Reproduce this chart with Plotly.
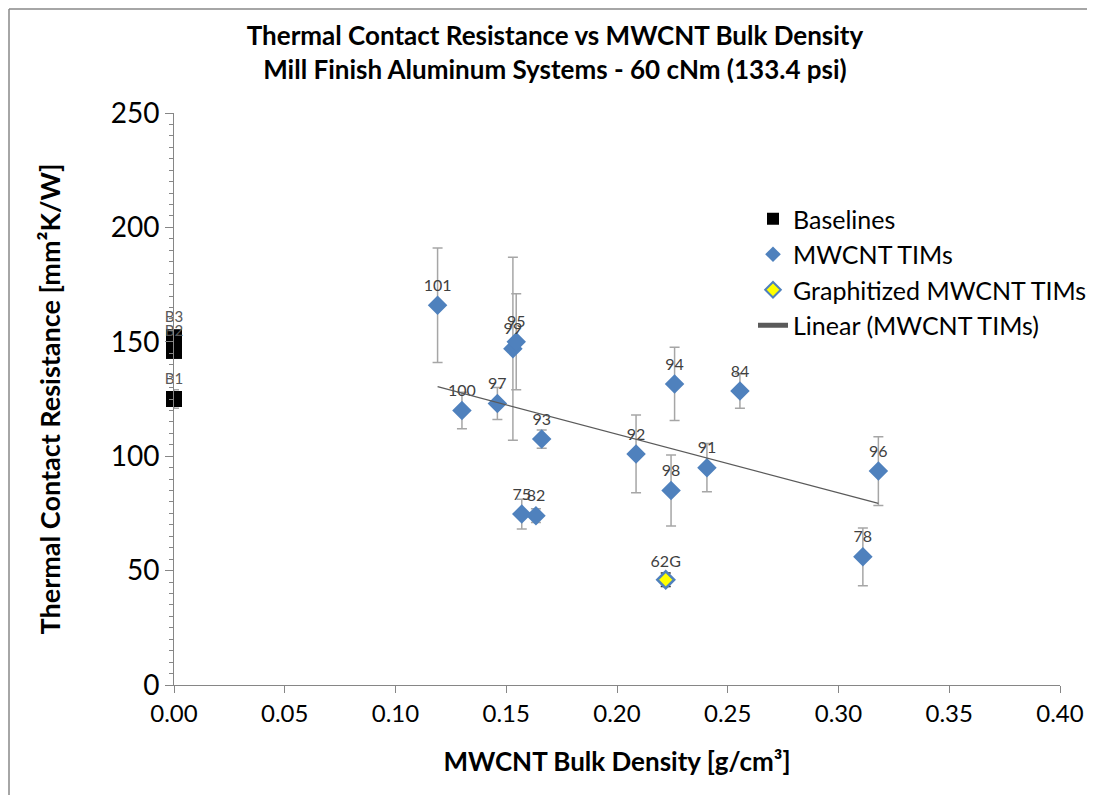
import plotly.graph_objects as go

# ---- data ----
base_x = [0.0, 0.0, 0.0]
base_y = [152, 146, 125]
base_err = [3, 3, 4]
base_lbl = ["B3", "B2", "B1"]

tim_x = [0.119, 0.130, 0.146, 0.153, 0.1545, 0.166, 0.157, 0.1634, 0.2086, 0.2244, 0.2406, 0.226, 0.2555, 0.318, 0.311]
tim_y = [166, 120, 123, 147, 150, 107.5, 74.7, 74, 101, 85, 95, 131.6, 128.5, 93.5, 56]
tim_err = [25, 8, 7, 40, 21, 4, 6.5, 3, 17, 15.5, 10.5, 16, 7.5, 15, 12.6]
tim_lbl = ["101", "100", "97", "99", "95", "93", "75", "82", "92", "98", "91", "94", "84", "96", "78"]

gr_x = [0.222]
gr_y = [46]
gr_err = [3]
gr_lbl = ["62G"]

trend_x = [0.119, 0.318]
trend_y = [130.4, 79.4]

x_ticks = [0, 0.05, 0.10, 0.15, 0.20, 0.25, 0.30, 0.35, 0.40]
y_ticks = [0, 50, 100, 150, 200, 250]

FONT = "Lato"
BLUE = "#4F81BD"
EGRAY = "#A6A6A6"
LBL = "#404040"

OFF = 8  # page offset of the figure
W, H = 1087, 787
L, R, T, B = 166, 35, 105, 110
PW, PH = W - L - R, H - T - B

fig = go.Figure()

fig.add_trace(go.Scatter(
    x=base_x, y=base_y, mode="markers+text", name="Baselines",
    marker=dict(symbol="square", size=16, color="black"),
    error_y=dict(type="data", array=base_err, color=EGRAY, thickness=1.5, width=5),
    text=base_lbl, textposition="top center",
    textfont=dict(family=FONT, size=15, color="#595959"),
    cliponaxis=False,
))

fig.add_trace(go.Scatter(
    x=tim_x, y=tim_y, mode="markers+text", name="MWCNT TIMs",
    marker=dict(symbol="diamond", size=15, color=BLUE),
    error_y=dict(type="data", array=tim_err, color=EGRAY, thickness=1.5, width=5),
    text=tim_lbl, textposition="top center",
    textfont=dict(family=FONT, size=16, color=LBL),
    cliponaxis=False,
))

fig.add_trace(go.Scatter(
    x=gr_x, y=gr_y, mode="markers+text", name="Graphitized MWCNT TIMs",
    marker=dict(symbol="diamond", size=13, color="#FFFF00", line=dict(color=BLUE, width=2.5)),
    error_y=dict(type="data", array=gr_err, color="#303030", thickness=1.5, width=5),
    text=gr_lbl, textposition="top center",
    textfont=dict(family=FONT, size=16, color=LBL),
    cliponaxis=False,
))

fig.add_trace(go.Scatter(
    x=trend_x, y=trend_y, mode="lines", name="Linear (MWCNT TIMs)",
    line=dict(color="#5a5a5a", width=1.2),
))

fig.update_layout(
    width=W, height=H,
    margin=dict(l=L, r=R, t=T, b=B, autoexpand=False),
    paper_bgcolor="white", plot_bgcolor="white",
    font=dict(family=FONT, color="black"),
    title=dict(
        text="<b>Thermal Contact Resistance vs MWCNT Bulk Density<br>Mill Finish Aluminum Systems - 60 cNm (133.4 psi)</b>",
        x=(555 - OFF - L) / PW, xref="paper", xanchor="center",
        y=1 - 37 / H, yanchor="top",
        font=dict(family=FONT, size=26, color="black"),
    ),
    legend=dict(
        x=(753 - OFF - L) / PW, y=(PH + T - (196 - OFF)) / PH, xanchor="left", yanchor="top",
        font=dict(family=FONT, size=25, color="black"),
        bgcolor="rgba(0,0,0,0)", itemsizing="constant",
    ),
    showlegend=True,
    shapes=[
        dict(type="line", xref="paper", yref="paper",
             x0=-(L - 1) / PW, x1=1.2, y0=(PH + T - 1) / PH, y1=(PH + T - 1) / PH,
             line=dict(color="#888888", width=1.5)),
        dict(type="line", xref="paper", yref="paper",
             x0=-(L - 1) / PW, x1=-(L - 1) / PW, y0=(PH + T - 1) / PH, y1=-B / PH,
             line=dict(color="#888888", width=1.5)),
    ],
)

fig.update_xaxes(
    range=[0, 0.40], tickvals=x_ticks, tickformat=".2f",
    showgrid=False, zeroline=False,
    showline=True, linecolor="#868686", linewidth=1,
    ticks="outside", ticklen=7, tickcolor="#868686",
    tickfont=dict(family=FONT, size=24, color="black"),
    title=dict(text="<b>MWCNT Bulk Density [g/cm³]</b>", font=dict(family=FONT, size=26, color="black"), standoff=27),
)
fig.update_yaxes(
    range=[0, 250], tickvals=y_ticks,
    showgrid=False, zeroline=False,
    showline=True, linecolor="#868686", linewidth=1,
    ticks="outside", ticklen=8, tickcolor="#868686",
    minor=dict(dtick=5, ticks="outside", ticklen=4, tickcolor="#868686"),
    tickfont=dict(family=FONT, size=28, color="black"),
    title=dict(text="<b>Thermal Contact Resistance [mm²K/W]</b>", font=dict(family=FONT, size=27, color="black"), standoff=42),
)

fig.write_html("out.html")
